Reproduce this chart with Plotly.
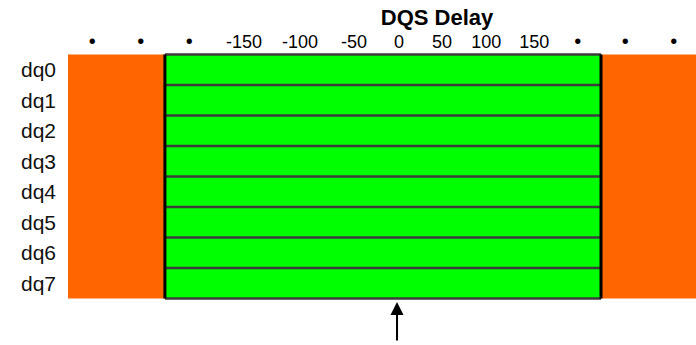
import plotly.graph_objects as go

# ---- data ----
rows = ["dq0", "dq1", "dq2", "dq3", "dq4", "dq5", "dq6", "dq7"]
columns = list(range(13))                  # 13 delay slots
# 0 = fail (orange), 1 = pass (green), per slot, same for every dq
slot_pass = [0, 0, 1, 1, 1, 1, 1, 1, 1, 1, 1, 0, 0]
DOT = "<span style='font-size:20px'>•</span>"
tick_labels = [DOT, DOT, DOT, "-150", "-100", "-50", "0", "50", "100", "150", DOT, DOT, DOT]
tick_slots = [0, 1, 2, 3.13, 4.29, 5.40, 6.33, 7.22, 8.13, 9.12, 10.02, 11, 12]
arrow_slot = 6.29

z = [slot_pass[:] for _ in rows]

FONT = "Liberation Sans, Arial, sans-serif"

fig = go.Figure(go.Heatmap(
    z=z, x=columns, y=rows,
    colorscale=[[0, "#FF6600"], [0.5, "#FF6600"], [0.5, "#00FF00"], [1, "#00FF00"]],
    zmin=0, zmax=1, showscale=False, hoverinfo="skip",
))

# boundaries of pass region
first = slot_pass.index(1)
last = len(slot_pass) - 1 - slot_pass[::-1].index(1)
x0, x1 = first - 0.5, last + 0.5

shapes = []
# horizontal row separators within green region
for i in range(len(rows) + 1):
    yb = i - 0.5
    shapes.append(dict(type="line", xref="x", yref="y", x0=x0, x1=x1, y0=yb, y1=yb,
                       line=dict(color="#3c3c3c", width=2.5)))
# vertical black borders
for xv in (x0, x1):
    shapes.append(dict(type="line", xref="x", yref="y", x0=xv, x1=xv,
                       y0=-0.5, y1=len(rows) - 0.5,
                       line=dict(color="black", width=3)))

fig.update_layout(
    width=696, height=345,
    margin=dict(l=68, r=0, t=53, b=45, autoexpand=False),
    paper_bgcolor="white", plot_bgcolor="white",
    font=dict(family=FONT, color="black"),
    shapes=shapes,
    title=dict(text="<b>DQS Delay</b>", x=437 / 696, xanchor="center", xref="container",
               y=1 - 17 / 345, yanchor="middle", yref="container", automargin=False,
               font=dict(size=22, color="black", family=FONT)),
    xaxis=dict(side="top", range=[-0.5, 12.46], tickmode="array",
               tickvals=tick_slots, ticktext=tick_labels, automargin=False,
               showgrid=False, zeroline=False, showline=False, ticks="",
               tickfont=dict(size=18, color="black", family=FONT), ticklabelstandoff=0),
    yaxis=dict(autorange="reversed", showgrid=False, zeroline=False, showline=False,
               automargin=False, ticks="",
               tickfont=dict(size=21, color="#111", family=FONT), ticklabelstandoff=11),
    annotations=[dict(x=arrow_slot, y=0, xref="x", yref="paper", text="",
                      showarrow=True, arrowhead=2, arrowsize=1.3, arrowwidth=2,
                      arrowcolor="black", ax=0, ay=42, standoff=2)],
)

fig.write_html("out.html", config={"displayModeBar": False},
               post_script="document.body.style.margin='0';document.body.style.overflow='hidden';")
